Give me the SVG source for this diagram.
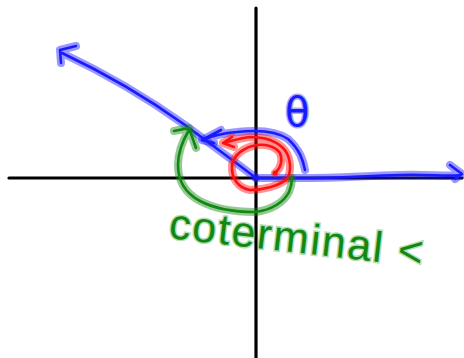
<svg xmlns="http://www.w3.org/2000/svg" width="464" height="358" viewBox="0 0 464 358">
<style>
.glow{fill:none;stroke-linecap:round;stroke-linejoin:round;stroke-width:8;stroke-opacity:0.45}
.core{fill:none;stroke-linecap:round;stroke-linejoin:round;stroke-width:2.6}
.b{stroke:#1a1aff}
.r{stroke:#ff1010}
.g{stroke:#118811}
.axis{fill:none;stroke:#000;stroke-width:3.2;stroke-linecap:round}
</style>
<defs>
<path id="ray" d="M256,178 C230,158 205,140 185,125 C150,100 115,78 62,53 M60,50 L76,46 M60,50 L61,63"/>
<path id="xray" d="M256,178 L300,178 C340,178 360,176 400,175 C430,174 445,177 461,175 M450,165 L462,174 L455,179"/>
<path id="theta" d="M305,170 C303,160 300,150 288,139 C275,130 255,130 237,132 C225,133 212,136 202,140 M202,140 L221,130 M202,140 L214,143"/>
<path id="spiral" d="M275,173 C281,168 283,160 280,153 C275,146 265,144 257,145 C245,147 234,154 232,165 C231,178 238,188 250,190 C263,190 280,186 288,178 C292,168 290,155 283,148 C275,140 262,137 250,137 C240,138 232,141 223,143 M223,143 L232,137 M223,143 L234,147"/>
<path id="green" d="M189,130 C183,140 178,152 178,165 C178,180 185,193 200,201 C215,209 235,212 255,212 C272,210 284,202 289,192 C292,185 292,180 292,178 M174,131 L189,128 L196,148"/>
</defs>
<g id="axes">
<line class="axis" x1="9" y1="178" x2="462" y2="178"/>
<line class="axis" x1="256" y1="8" x2="256" y2="358"/>
</g>
<g id="connectors">
<g id="terminal-ray"><use href="#ray" class="glow b"/><use href="#ray" class="core b"/></g>
<g id="initial-ray"><use href="#xray" class="glow b"/><use href="#xray" class="core b"/></g>
<g id="theta-arc"><use href="#theta" class="glow b"/><use href="#theta" class="core b"/></g>
<g id="red-spiral"><use href="#spiral" class="glow r"/><use href="#spiral" class="core r"/><circle cx="275" cy="173" r="2.5" fill="#ff1010"/></g>
<g id="green-loop"><use href="#green" class="glow g"/><use href="#green" class="core g"/></g>
</g>
<g id="label-theta">
<text x="285" y="126" font-family="DejaVu Sans, sans-serif" font-size="40" fill="#1a1aff" stroke="#1a1aff" stroke-opacity="0.4" stroke-width="3" paint-order="stroke">θ</text>
</g>
<g id="label-coterminal">
<text x="168" y="238" transform="rotate(6.5 168 238)" font-family="Liberation Sans, sans-serif" font-size="43" textLength="255" lengthAdjust="spacing" fill="#118811" stroke="#44aa44" stroke-opacity="0.4" stroke-width="3" paint-order="stroke">coterminal &lt;</text>
</g>
</svg>
